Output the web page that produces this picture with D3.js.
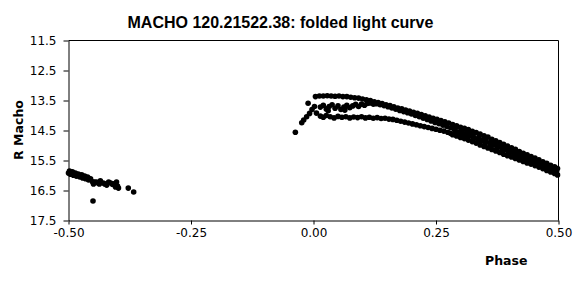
<!DOCTYPE html>
<html><head><meta charset="utf-8">
<script src="https://cdn.jsdelivr.net/npm/d3@7"></script>
<style>body{margin:0;background:#fff}svg{display:block}</style>
</head><body><svg id="c" width="587" height="292"></svg>
<script>
const titleText = "MACHO 120.21522.38: folded light curve";
const xLabel = "Phase";
const yLabel = "R Macho";
const xTicks = [-0.5, -0.25, 0, 0.25, 0.5];
const yTicks = [11.5, 12.5, 13.5, 14.5, 15.5, 16.5, 17.5];

// wrapped points near phase -0.5
const wrapPhase = [-0.500,-0.498,-0.496,-0.492,-0.490,-0.486,-0.484,-0.480,-0.477,-0.473,-0.471,-0.467,-0.465,-0.461,-0.459,-0.455,-0.451,-0.449,-0.443,-0.437,-0.435,-0.429,-0.422,-0.418,-0.414,-0.408,-0.402,-0.400,-0.398,-0.378,-0.367,-0.450,
  -0.494,-0.488,-0.482,-0.475,-0.469,-0.463,-0.457,-0.447,-0.440,-0.426,-0.410,-0.404];
const wrapMag   = [15.92,15.85,15.96,15.88,15.99,15.92,16.02,15.95,16.05,15.98,16.08,16.02,16.11,16.05,16.15,16.11,16.21,16.28,16.22,16.28,16.18,16.25,16.32,16.22,16.25,16.28,16.22,16.35,16.42,16.42,16.55,16.85,
  15.90,15.97,15.98,16.00,16.05,16.08,16.12,16.22,16.25,16.28,16.30,16.38];

// rising branch before phase 0
const risePhase = [-0.037,-0.024,-0.020,-0.014,-0.008,-0.011,-0.003,0.002,0.006];
const riseMag   = [14.56,14.24,14.15,14.04,13.93,13.59,13.80,13.70,13.92];

// upper branch
const upperPhase = [0.004,0.012,0.020,0.028,0.036,0.044,0.052,0.060,0.068,0.076,0.084,0.092,0.100,0.108,0.116,0.124,0.132,0.140,0.148,0.156,0.164,0.172,0.180,0.188,0.196,0.204,0.212,0.220,0.228,0.236,0.244,0.252,0.260,0.268,0.276];
const upperMag   = [13.37,13.35,13.35,13.34,13.35,13.36,13.35,13.37,13.37,13.39,13.41,13.42,13.45,13.48,13.50,13.54,13.57,13.60,13.64,13.67,13.71,13.75,13.78,13.82,13.85,13.89,13.93,13.97,14.01,14.05,14.09,14.13,14.17,14.21,14.25];

// middle branch (merging into the upper one)
const middlePhase = [0.014,0.020,0.026,0.030,0.032,0.038,0.044,0.050,0.056,0.062,0.064,0.068,0.074,0.080,0.086,0.092,0.098,0.104,0.110,0.116,0.122,0.128,0.136,0.144,0.152,0.160,0.168,0.176,0.184,0.192,0.200,0.208,0.216,0.224,0.232,0.240,0.248,0.256,0.264,0.272,0.280];
const middleMag   = [13.72,13.66,13.78,13.84,13.70,13.64,13.76,13.68,13.80,13.72,13.82,13.66,13.74,13.68,13.63,13.70,13.62,13.66,13.60,13.58,13.62,13.61,13.64,13.67,13.71,13.75,13.79,13.83,13.87,13.91,13.95,14.00,14.04,14.09,14.13,14.18,14.23,14.27,14.32,14.36,14.41];

// lower branch
const lowerPhase = [0.014,0.020,0.026,0.034,0.042,0.050,0.058,0.066,0.074,0.082,0.090,0.098,0.106,0.114,0.122,0.130,0.138,0.146,0.154,0.162,0.170,0.178,0.186,0.194,0.202,0.210,0.218,0.226,0.234,0.242,0.250,0.258,0.266,0.274,0.280];
const lowerMag   = [14.02,14.06,14.00,14.04,14.08,14.03,14.06,14.04,14.08,14.05,14.07,14.04,14.08,14.06,14.09,14.07,14.10,14.09,14.12,14.13,14.16,14.19,14.22,14.25,14.28,14.31,14.34,14.37,14.40,14.43,14.46,14.49,14.52,14.56,14.60];

// merged declining band
const tailPhase = [
 0.284,0.292,0.300,0.308,0.316,0.324,0.332,0.340,0.348,0.356,0.364,0.372,0.380,0.388,0.396,0.404,0.412,0.420,0.428,0.436,0.444,0.452,0.460,0.468,0.476,0.484,0.492,0.498,
 0.290,0.302,0.314,0.326,0.338,0.350,0.362,0.374,0.386,0.398,0.410,0.422,0.434,0.446,0.458,0.470,0.482,0.494,
 0.288,0.296,0.304,0.312,0.320,0.328,0.336,0.344,0.352,0.360,0.368,0.376,0.384,0.392,0.400,0.408,0.416,0.424,0.432,0.440,0.448,0.456,0.464,0.472,0.480,0.488,0.496,
 0.290,0.302,0.314,0.326,0.338,0.350,0.362,0.374,0.386,0.398,0.410,0.422,0.434,0.446,0.458,0.470,0.482,0.494,
 0.284,0.292,0.300,0.308,0.316,0.324,0.332,0.340,0.348,0.356,0.364,0.372,0.380,0.388,0.396,0.404,0.412,0.420,0.428,0.436,0.444,0.452,0.460,0.468,0.476,0.484,0.492,0.498];
const tailMag = [
 14.30,14.34,14.39,14.43,14.47,14.53,14.57,14.62,14.68,14.72,14.79,14.84,14.90,14.96,15.02,15.08,15.13,15.20,15.26,15.31,15.37,15.42,15.48,15.54,15.59,15.66,15.71,15.77,
 14.41,14.47,14.56,14.62,14.71,14.78,14.87,14.93,15.03,15.10,15.18,15.27,15.34,15.44,15.50,15.60,15.68,15.77,
 14.48,14.55,14.57,14.66,14.67,14.74,14.78,14.83,14.86,14.93,14.96,15.04,15.08,15.13,15.20,15.24,15.30,15.34,15.42,15.46,15.52,15.55,15.62,15.66,15.74,15.79,15.86,
 14.59,14.65,14.73,14.80,14.88,14.95,15.03,15.10,15.19,15.26,15.33,15.41,15.49,15.56,15.62,15.71,15.78,15.88,
 14.64,14.68,14.73,14.77,14.82,14.87,14.92,14.98,15.03,15.08,15.13,15.18,15.23,15.29,15.34,15.38,15.43,15.48,15.53,15.58,15.62,15.67,15.72,15.77,15.83,15.88,15.93,15.98];

const groups = [
  [wrapPhase, wrapMag], [risePhase, riseMag], [upperPhase, upperMag],
  [middlePhase, middleMag], [lowerPhase, lowerMag], [tailPhase, tailMag]
];
const points = [];
groups.forEach(([p, m]) => p.forEach((v, i) => points.push({phase: v, mag: m[i]})));

const svg = d3.select('#c');
const x = d3.scaleLinear().domain([-0.5, 0.5]).range([68.5, 558.5]);
const y = d3.scaleLinear().domain([11.5, 17.5]).range([40.5, 220.5]);

// plot frame (top and right)
svg.append('path')
  .attr('d', `M${x(-0.5)},${y(11.5)}H${x(0.5)}V${y(17.5)}`)
  .attr('fill', 'none').attr('stroke', '#000').attr('stroke-width', 1);

const gx = svg.append('g').attr('transform', `translate(0,${y(17.5)})`)
  .call(d3.axisBottom(x).tickValues(xTicks).tickFormat(d => d.toFixed(2)).tickSize(4).tickSizeOuter(0).tickPadding(4));
const gy = svg.append('g').attr('transform', `translate(${x(-0.5)},0)`)
  .call(d3.axisLeft(y).tickValues(yTicks).tickFormat(d => d.toFixed(1)).tickSize(5).tickSizeOuter(0).tickPadding(7));
[gx, gy].forEach(g => {
  g.selectAll('path,line').attr('stroke', '#000');
  g.selectAll('text').attr('font-family', 'DejaVu Sans, sans-serif').attr('font-size', 12).attr('fill', '#000');
});

svg.append('g').selectAll('circle').data(points).join('circle')
  .attr('cx', d => x(d.phase)).attr('cy', d => y(d.mag)).attr('r', 2.8).attr('fill', '#000');

svg.append('text').attr('x', 127.5).attr('y', 28)
  .attr('font-family', 'Arial, Liberation Sans, sans-serif').attr('font-weight', 'bold').attr('font-size', 16)
  .text(titleText);
svg.append('text').attr('transform', 'translate(23,130) rotate(-90)').attr('text-anchor', 'middle')
  .attr('font-family', 'DejaVu Sans, sans-serif').attr('font-weight', 'bold').attr('font-size', 12.5)
  .text(yLabel);
svg.append('text').attr('x', 485).attr('y', 265)
  .attr('font-family', 'DejaVu Sans, sans-serif').attr('font-weight', 'bold').attr('font-size', 12.5)
  .text(xLabel);
</script>
</body></html>
